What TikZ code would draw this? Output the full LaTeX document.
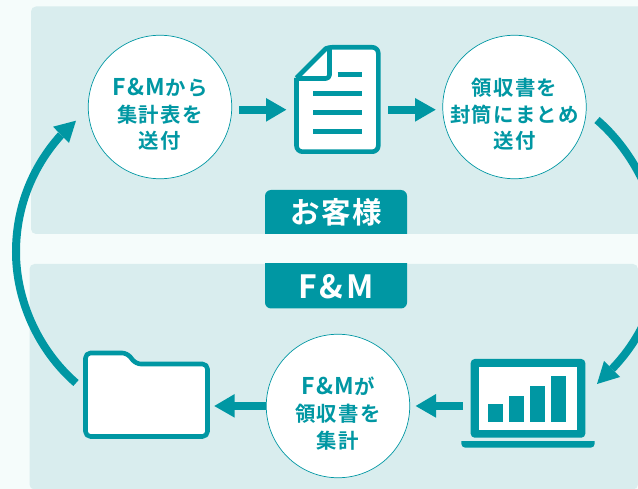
\documentclass[tikz,border=0pt]{standalone}
\usepackage{fontspec}
\setmainfont{Noto Sans CJK JP}[BoldFont={Noto Sans CJK JP Bold}]
\newfontfamily\lblfont{Noto Sans CJK JP Bold}[LetterSpace=6]
\definecolor{teal}{HTML}{0097A3}
\definecolor{panelc}{HTML}{D9EDEE}
\definecolor{pagec}{HTML}{F5FCFB}
\newcommand{\fmtext}{{\fontsize{23pt}{26.6pt}\selectfont F\kern1.5pt\&\kern1.5ptM}}
\tikzset{
 panel/.style={fill=panelc,draw=none,rounded corners=5pt},
 tabbox/.style={fill=teal,draw=none,rounded corners=6pt},
 tablabel/.style={text=white,font=\lblfont\fontsize{29.5pt}{32pt}\selectfont,inner sep=0pt},
 stepcircle/.style={circle,draw=teal,line width=0.7pt,fill=white,minimum size=143.5pt,inner sep=0pt},
 steptext/.style={inner sep=0pt,text=teal,align=center,font=\lblfont\fontsize{20.4pt}{26.6pt}\selectfont},
 flow/.style={draw=teal,line width=8pt},
 ring/.style={draw=teal,line width=8pt},
 tip/.style={fill=teal,draw=none},
 icon/.style={draw=teal,line width=4.6pt,fill=white,line join=round},
 rule/.style={draw=teal,line width=5pt},
 bar/.style={fill=teal,draw=none},
}
\begin{document}
\begin{tikzpicture}[x=1pt,y=-1pt]
\useasboundingbox (0,0) rectangle (638,489);
\fill[pagec] (0,0) rectangle (638,489);
\begin{scope}
\clip (0,0) rectangle (638,489);
\fill[panel] (31,6.5) rectangle (660,234);
\fill[panel] (29.5,264) rectangle (638,489.5);
\end{scope}
% tabs
\begin{scope}
\clip (250,180) rectangle (420,234);
\fill[tabbox] (265,190) rectangle (407,260);
\end{scope}
\begin{scope}
\clip (250,264) rectangle (420,320);
\fill[tabbox] (265,240) rectangle (407,308.5);
\end{scope}
\node[tablabel] (t1) at (336.5,212) {お客様};
\node[tablabel,font=\lblfont\fontsize{32pt}{34pt}\selectfont] (t2) at (336,286.5) {F\kern3pt\&\kern3ptM};
% circles
\node[stepcircle] (c1) at (160,107) {};
\node[stepcircle] (c2) at (514.5,107) {};
\node[stepcircle] (c3) at (338,406) {};
\node[steptext] (c1t) at (160,114.5) {\fmtext から\\集計表を\\送付};
\node[steptext] (c2t) at (514.5,114.5) {領収書を\\封筒にまとめ\\送付};
\node[steptext] (c3t) at (338,413.5) {\fmtext が\\領収書を\\集計};
% doc icon
\draw[icon] (296.5,78) -- (326,48.5) [rounded corners=3pt] -- (329,47.3) [rounded corners=6pt] -- (378.3,47.3) -- (378.3,151.7) -- (296.5,151.7) [rounded corners=1pt] -- (296.5,78);
\draw[icon,fill=none,rounded corners=3.5pt] (329.5,47.3) -- (329.5,78.5) -- (296.5,78.5);
\draw[rule] (337.7,74.3) -- (362.3,74.3);
\draw[rule] (313,93.7) -- (362.3,93.7);
\draw[rule] (313,112.3) -- (362.3,112.3);
\draw[rule] (313,131.3) -- (362.3,131.3);
% folder
\draw[icon,rounded corners=5pt] (85.5,353) -- (127,353) -- (136,364) -- (207.5,364) -- (207.5,436.5) -- (85.5,436.5) -- cycle;
% laptop
\fill[teal,rounded corners=4pt] (470.7,359) rectangle (585.3,437.7);
\fill[white] (478.7,367) rectangle (577.3,429.7);
\begin{scope}
\clip (455,441) rectangle (600,450);
\fill[teal,rounded corners=4pt] (461.3,430) rectangle (594.7,447.7);
\end{scope}
\fill[bar] (488,404) rectangle (503,422);
\fill[bar] (509,396) rectangle (524,422);
\fill[bar] (530,386) rectangle (545,422);
\fill[bar] (551,376) rectangle (566,422);
% straight arrows
\coordinate (a1s) at (239,109.7); \coordinate (a1e) at (286.3,109.7);
\draw[flow] (a1s) -- (267,109.7);
\fill[tip] (a1e) -- (266,98) -- (266,121.7) -- cycle;
\coordinate (a2s) at (388,109.7); \coordinate (a2e) at (435.7,109.7);
\draw[flow] (a2s) -- (416,109.7);
\fill[tip] (a2e) -- (415,98) -- (415,121.7) -- cycle;
\coordinate (a3s) at (462.7,406); \coordinate (a3e) at (415.7,406);
\draw[flow] (a3s) -- (435,406);
\fill[tip] (a3e) -- (436,394) -- (436,417.7) -- cycle;
\coordinate (a4s) at (266,406); \coordinate (a4e) at (214.3,406);
\draw[flow] (a4s) -- (234,406);
\fill[tip] (a4e) -- (234.7,394) -- (234.7,417.7) -- cycle;
% ring arrows
\begin{scope}
\clip (0,0) rectangle (638,489);
\draw[ring] (597,120) .. controls (630,148) and (660,200) .. (660,252) .. controls (660,300) and (640,340) .. (612,369);
\end{scope}
\fill[tip] (597,384) -- (604,361) -- (620,377) -- cycle;
\draw[ring] (76,383) .. controls (38,350) and (16,300) .. (16,252) .. controls (16,205) and (34,165) .. (61,135);
\fill[tip] (76,120.7) -- (53,126.7) -- (69,143) -- cycle;
\end{tikzpicture}
\end{document}
